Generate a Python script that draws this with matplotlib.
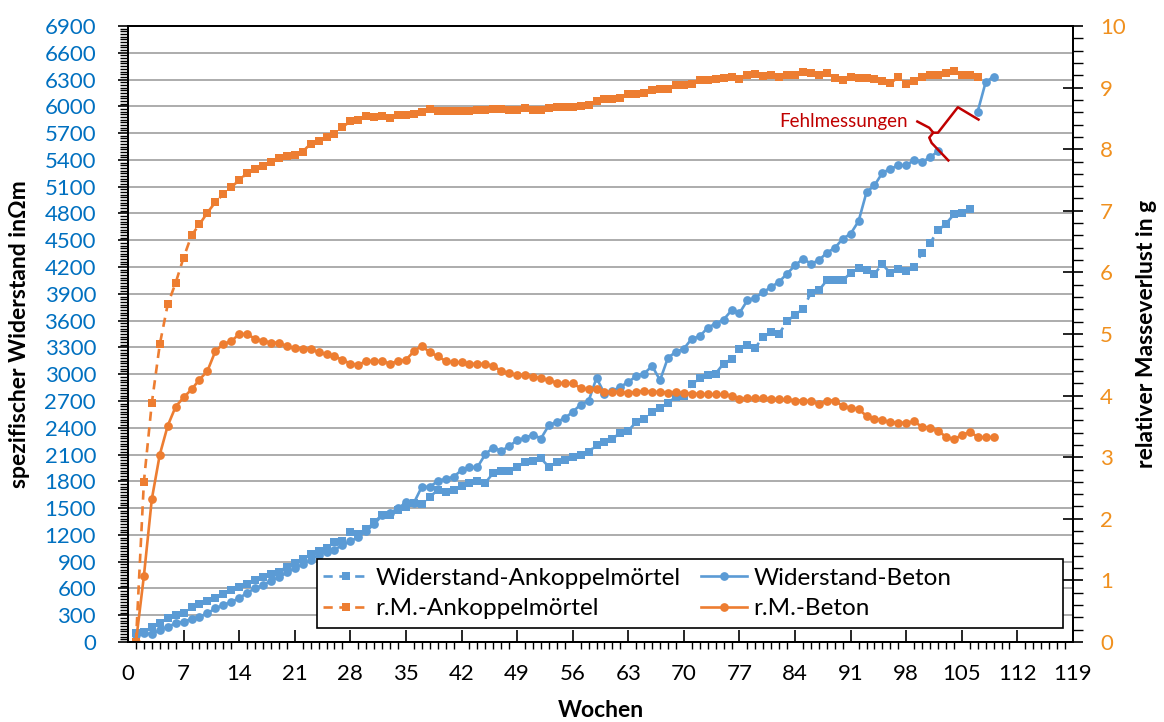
import numpy as np
import matplotlib
matplotlib.use('Agg')
import matplotlib.pyplot as plt
from matplotlib.ticker import MultipleLocator
from matplotlib.patches import Rectangle

plt.rcParams['font.family'] = ['Lato', 'DejaVu Sans']

# Wochen 1..109
weeks = np.arange(1, 110)

# spezifischer Widerstand Ankoppelmoertel (Ohm m), weeks 1..106
wid_ank = [97, 115, 171, 216, 265, 302, 328, 388, 422, 459,
           496, 534, 582, 619, 646, 694, 724, 758, 787, 843,
           887, 935, 985, 1015, 1055, 1115, 1130, 1234, 1212, 1261,
           1346, 1421, 1421, 1477, 1514, 1552, 1544, 1626, 1701, 1682,
           1701, 1746, 1776, 1805, 1783, 1895, 1913, 1913, 1962, 2011,
           2029, 2056, 1962, 2011, 2044, 2074, 2093, 2123, 2212, 2242,
           2279, 2342, 2365, 2466, 2495, 2577, 2622, 2682, 2745, 2753,
           2887, 2958, 2995, 3007, 3119, 3167, 3279, 3324, 3298, 3417,
           3469, 3454, 3592, 3667, 3726, 3913, 3939, 4051, 4051, 4051,
           4133, 4189, 4163, 4126, 4230, 4133, 4182, 4155, 4200, 4361,
           4468, 4610, 4685, 4789, 4804, 4853]

# spezifischer Widerstand Beton (Ohm m), weeks 1..109, 103-106 Fehlmessungen
wid_beton = [80, 97, 89, 134, 171, 209, 227, 257, 283, 321,
             377, 414, 451, 489, 552, 601, 638, 686, 724, 780,
             824, 869, 918, 974, 1011, 1035, 1085, 1128, 1175, 1245,
             1318, 1421, 1447, 1496, 1563, 1559, 1738, 1738, 1802, 1828,
             1850, 1925, 1958, 1958, 2104, 2178, 2141, 2193, 2260, 2286,
             2324, 2279, 2428, 2465, 2508, 2577, 2660, 2700, 2958, 2783,
             2812, 2857, 2913, 2977, 3007, 3092, 2932, 3186, 3249, 3286,
             3398, 3424, 3521, 3566, 3611, 3715, 3685, 3827, 3857, 3920,
             3976, 4036, 4126, 4219, 4292, 4238, 4275, 4361, 4413, 4517,
             4573, 4714, 5039, 5114, 5256, 5300, 5338, 5338, 5401, 5375,
             5431, 5495, np.nan, np.nan, np.nan, np.nan, 5942, 6270, 6334]

# relativer Masseverlust Ankoppelmoertel (g), weeks 1..107
rm_ank = [0, 2.6, 3.88, 4.83, 5.48, 5.83, 6.24, 6.6, 6.78, 6.97,
          7.14, 7.27, 7.38, 7.5, 7.61, 7.68, 7.73, 7.8, 7.85, 7.89,
          7.91, 7.96, 8.09, 8.14, 8.19, 8.24, 8.36, 8.45, 8.48, 8.54,
          8.53, 8.54, 8.51, 8.55, 8.56, 8.57, 8.60, 8.66, 8.62, 8.62,
          8.62, 8.62, 8.62, 8.63, 8.63, 8.66, 8.66, 8.63, 8.63, 8.67,
          8.64, 8.63, 8.67, 8.69, 8.69, 8.69, 8.70, 8.72, 8.79, 8.81,
          8.81, 8.83, 8.90, 8.90, 8.91, 8.96, 8.98, 8.98, 9.04, 9.04,
          9.06, 9.13, 9.13, 9.14, 9.16, 9.17, 9.14, 9.21, 9.22, 9.19,
          9.20, 9.18, 9.20, 9.20, 9.25, 9.23, 9.21, 9.23, 9.15, 9.13,
          9.17, 9.16, 9.16, 9.14, 9.11, 9.07, 9.17, 9.06, 9.11, 9.18,
          9.21, 9.21, 9.23, 9.27, 9.20, 9.20, 9.18]

# relativer Masseverlust Beton (g), weeks 1..109
rm_beton = [0, 1.07, 2.32, 3.04, 3.51, 3.82, 3.97, 4.10, 4.26, 4.40,
            4.72, 4.84, 4.88, 5.0, 5.0, 4.92, 4.89, 4.86, 4.86, 4.80,
            4.77, 4.76, 4.76, 4.70, 4.67, 4.64, 4.58, 4.52, 4.50, 4.56,
            4.56, 4.56, 4.52, 4.56, 4.58, 4.72, 4.81, 4.70, 4.64, 4.56,
            4.54, 4.54, 4.51, 4.52, 4.51, 4.48, 4.40, 4.37, 4.33, 4.33,
            4.31, 4.28, 4.25, 4.21, 4.20, 4.20, 4.12, 4.10, 4.10, 4.06,
            4.06, 4.06, 4.04, 4.06, 4.08, 4.06, 4.06, 4.05, 4.06, 4.04,
            4.03, 4.03, 4.02, 4.02, 4.02, 4.00, 3.95, 3.96, 3.96, 3.96,
            3.95, 3.94, 3.94, 3.92, 3.92, 3.91, 3.86, 3.92, 3.92, 3.83,
            3.80, 3.78, 3.67, 3.62, 3.60, 3.57, 3.56, 3.56, 3.58, 3.49,
            3.48, 3.43, 3.33, 3.29, 3.36, 3.41, 3.33, 3.32, 3.33]

labels = ['Widerstand-Ankoppelmörtel', 'Widerstand-Beton',
          'r.M.-Ankoppelmörtel', 'r.M.-Beton']

BLUE = '#5b9bd5'
ORANGE = '#ed7d31'
RED = '#c00000'

W, H = 1164, 722
fig = plt.figure(figsize=(W/100, H/100), dpi=100)
ax = fig.add_axes([128/W, 1 - 642/H, 945/W, 616/H])
ax2 = ax.twinx()

def fx(px):
  # pixel column -> axes fraction
  return (px - 128) / 945

def fy(py):
  # pixel row -> axes fraction
  return (642 - py) / 616

dash = (0, (3.5, 2.5))
l1, = ax.plot(weeks[:len(wid_ank)], wid_ank, color=BLUE, ls=dash, lw=1.9,
              marker='s', ms=6.3, mew=0, label=labels[0])
l2, = ax.plot(weeks[:len(wid_beton)], wid_beton, color=BLUE, ls='-', lw=1.9,
              marker='o', ms=6.3, mew=0, label=labels[1])
l3, = ax2.plot(weeks[:len(rm_ank)], rm_ank, color=ORANGE, ls=dash, lw=1.9,
               marker='s', ms=6.3, mew=0, label=labels[2])
l4, = ax2.plot(weeks[:len(rm_beton)], rm_beton, color=ORANGE, ls='-', lw=1.9,
               marker='o', ms=6.3, mew=0, label=labels[3])

ax.set_xlim(0, 119)
ax.set_ylim(0, 6900)
ax2.set_ylim(0, 10)

ax.xaxis.set_major_locator(MultipleLocator(7))
ax.xaxis.set_minor_locator(MultipleLocator(1))
ax.yaxis.set_major_locator(MultipleLocator(300))
ax.yaxis.set_minor_locator(MultipleLocator(30))
ax2.yaxis.set_major_locator(MultipleLocator(1))
ax2.yaxis.set_minor_locator(MultipleLocator(0.2))

ax.grid(axis='y', color='#a6a6a6', lw=1.3)
ax.set_axisbelow(True)

ax.tick_params(axis='x', which='major', direction='in', length=9, width=1.2,
               labelsize=16, pad=16, colors='black')
ax.tick_params(axis='x', which='minor', direction='out', length=5, width=1)
ax.tick_params(axis='y', which='major', direction='out', length=7, width=1.2,
               labelsize=16, pad=16, labelcolor='#0070c0')
ax.tick_params(axis='y', which='minor', direction='out', length=6, width=1)
ax2.tick_params(axis='y', which='major', direction='inout', length=15, width=1.2,
                labelsize=16, pad=12, labelcolor='#f0901e')
ax2.tick_params(axis='y', which='minor', direction='out', length=7, width=1)

for a in (ax, ax2):
  for s in a.spines.values():
    s.set_linewidth(1.4)
ax.spines['top'].set_color('#404040')

ax.set_xlabel('Wochen', fontsize=16.5, fontweight='bold')
ax.xaxis.set_label_coords(0.5, fy(700))
ax.set_ylabel('spezifischer Widerstand inΩm', fontsize=16.5, fontweight='bold')
ax.yaxis.set_label_coords(fx(30), 0.5)
ax2.set_ylabel('relativer Masseverlust in g', fontsize=16.5, fontweight='bold')
ax2.yaxis.set_label_coords(fx(1136), 0.5)

# Fehlmessungen annotation with a brace
ax.text(98.2, 5830, 'Fehlmessungen', color=RED, fontsize=13.5,
        ha='right', va='center')
ax.plot([99.4, 100.9, 101.4, 100.9, 101.2, 103.3],
        [5830, 5760, 5705, 5650, 5590, 5394], color=RED, lw=1.8)
ax.plot([101.4, 102.0, 104.5, 107.1], [5705, 5705, 5990, 5852],
        color=RED, lw=1.8)

# legend box is wider than its content in the original
box = Rectangle((fx(317), fy(628)), fx(1063) - fx(317), fy(559) - fy(628),
                transform=ax2.transAxes, facecolor='white', edgecolor='black',
                lw=1.2, zorder=5)
ax2.add_patch(box)
leg = ax2.legend(handles=[l1, l3, l2, l4], ncol=2, fontsize=17.5,
                 loc='center left', bbox_to_anchor=(fx(323), fy(593.5)),
                 frameon=False, borderpad=0, labelspacing=0.4,
                 handlelength=1.9, handletextpad=0.25, columnspacing=0.85,
                 borderaxespad=0)
leg.set_zorder(6)

fig.savefig('out.png', dpi=100)
